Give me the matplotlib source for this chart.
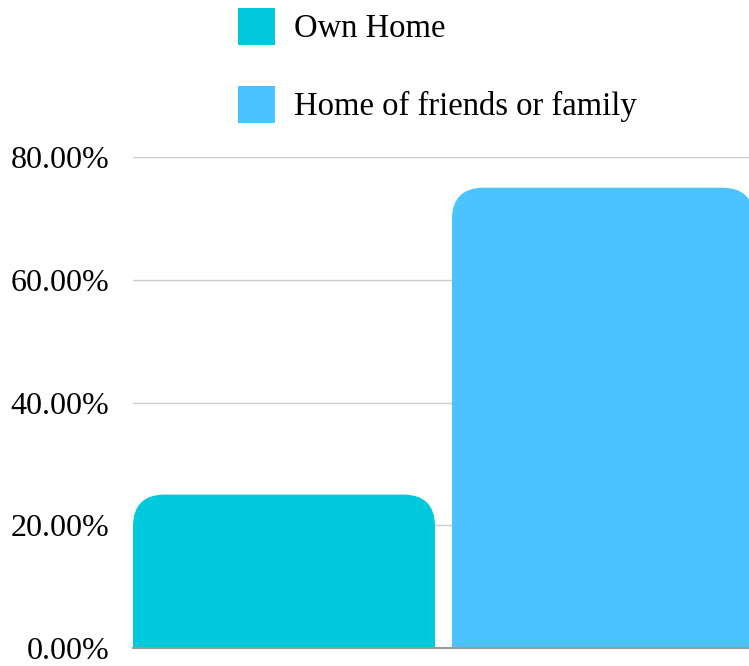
import matplotlib
matplotlib.use("Agg")
import matplotlib.pyplot as plt
from matplotlib.patches import FancyBboxPatch
from matplotlib.ticker import FuncFormatter

# data
labels = ["Own Home", "Home of friends or family"]
values = [25.0, 75.0]
colors = ["#00C9DB", "#4AC3FF"]
yticks = [0, 20, 40, 60, 80]

plt.rcParams["font.family"] = ["Liberation Serif", "DejaVu Serif"]

fig = plt.figure(figsize=(7.49, 6.66), dpi=100)
ax = fig.add_axes([133 / 749, 1 - 648 / 666, 1 - 133 / 749, (648 - 157) / 666])

xs = list(range(len(values)))
bars = ax.bar(xs, values, width=0.947, color=colors, label=labels)

# swap the plain rectangles for ones with rounded top corners
aspect = (80 / 491) / (1 / 319)
for rect, c in zip(bars, colors):
    rect.set_visible(False)
    x, y = rect.get_x(), rect.get_y()
    w, h = rect.get_width(), rect.get_height()
    extra = 10
    p = FancyBboxPatch((x, y - extra), w, h + extra,
                       boxstyle="round,pad=0,rounding_size=0.1",
                       mutation_aspect=aspect, facecolor=c, edgecolor="none",
                       zorder=2)
    ax.add_patch(p)

ax.set_xlim(-0.4735, 1.458)
ax.set_ylim(0, 80)
ax.set_yticks(yticks)
ax.yaxis.set_major_formatter(FuncFormatter(lambda v, _: f"{v:.2f}%"))
ax.set_xticks([])
ax.tick_params(axis="y", length=0, pad=17, labelsize=23)
ax.grid(axis="y", color="#cccccc", linewidth=1, zorder=0)
ax.set_axisbelow(True)
ax.axhline(0, color="#999999", linewidth=1.5, zorder=3, clip_on=False)
for s in ax.spines.values():
    s.set_visible(False)

handles = [plt.Rectangle((0, 0), 1, 1, facecolor=c) for c in colors]
fig.legend(handles, labels, loc="upper left", bbox_to_anchor=(238 / 749, 1 - 8 / 666),
           frameon=False, fontsize=23.5, handlelength=1.13, handleheight=1.37,
           labelspacing=1.25, handletextpad=0.6, borderpad=0, borderaxespad=0)

fig.savefig("out.png", dpi=100)
